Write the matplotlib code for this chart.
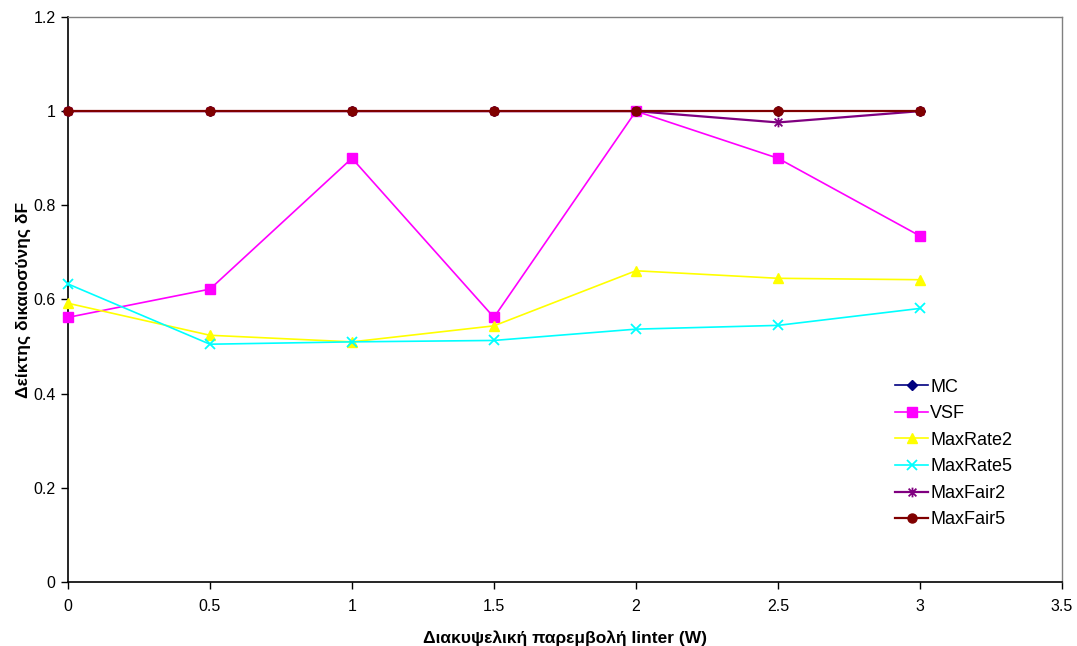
import matplotlib
matplotlib.use("Agg")
import matplotlib.pyplot as plt
from matplotlib.path import Path

plt.rcParams['font.family'] = ['Liberation Sans', 'DejaVu Sans']

# Interference power (W)
x_vals = [0, 0.5, 1, 1.5, 2, 2.5, 3]

mc = [1.0, 1.0, 1.0, 1.0, 1.0, 1.0, 1.0]
vsf = [0.562, 0.622, 0.900, 0.562, 1.0, 0.900, 0.735]
maxrate2 = [0.592, 0.524, 0.510, 0.544, 0.661, 0.645, 0.642]
maxrate5 = [0.633, 0.505, 0.510, 0.513, 0.537, 0.545, 0.581]
maxfair2 = [1.0, 1.0, 1.0, 1.0, 1.0, 0.976, 1.0]
maxfair5 = [1.0, 1.0, 1.0, 1.0, 1.0, 1.0, 1.0]

# Asterisk marker: a vertical stroke crossed by two diagonals
asterisk = Path(
    [(0, -1), (0, 1), (-0.8, -0.8), (0.8, 0.8), (-0.8, 0.8), (0.8, -0.8)],
    [Path.MOVETO, Path.LINETO, Path.MOVETO, Path.LINETO, Path.MOVETO, Path.LINETO],
)

series_names = ["MC", "VSF", "MaxRate2", "MaxRate5", "MaxFair2", "MaxFair5"]
series_vals = [mc, vsf, maxrate2, maxrate5, maxfair2, maxfair5]
colors = ["#000080", "#FF00FF", "#FFFF00", "#00FFFF", "#800080", "#800000"]
markers = ["D", "s", "^", "x", asterisk, "o"]
msizes = [5, 6.5, 6.5, 7, 7, 6.5]
lwidths = [1.2, 1.2, 1.2, 1.2, 1.6, 1.6]

x_ticks = [0, 0.5, 1, 1.5, 2, 2.5, 3, 3.5]
x_tick_labels = ["0", "0.5", "1", "1.5", "2", "2.5", "3", "3.5"]
y_ticks = [0, 0.2, 0.4, 0.6, 0.8, 1, 1.2]
y_tick_labels = ["0", "0.2", "0.4", "0.6", "0.8", "1", "1.2"]

fig = plt.figure(figsize=(10.77, 6.46), dpi=100)
ax = fig.add_axes([0.0631, 0.0991, 0.9229, 0.8746])

for name, vals, c, m, ms, lw in zip(series_names, series_vals, colors, markers, msizes, lwidths):
    mew = 1.3 if (m is asterisk or m == "x") else 1.0
    ax.plot(x_vals, vals, color=c, marker=m, markersize=ms, linewidth=lw,
            markeredgecolor=c, markerfacecolor=c, markeredgewidth=mew,
            label=name, clip_on=False, zorder=3)

ax.set_xlim(0, 3.5)
ax.set_ylim(0, 1.2)
ax.set_xticks(x_ticks)
ax.set_xticklabels(x_tick_labels)
ax.set_yticks(y_ticks)
ax.set_yticklabels(y_tick_labels)
ax.tick_params(axis='both', direction='out', length=5, width=1, labelsize=11.5,
               colors='black')
ax.tick_params(axis='x', pad=7)
ax.tick_params(axis='y', pad=4)

for side in ("left", "bottom"):
    ax.spines[side].set_color("black")
    ax.spines[side].set_linewidth(1.2)
for side in ("top", "right"):
    ax.spines[side].set_color("#808080")
    ax.spines[side].set_linewidth(1.0)

ax.set_xlabel("Διακυψελική παρεμβολή Iinter (W)", fontsize=12.5, fontweight='bold',
              labelpad=12)
ax.set_ylabel("Δείκτης δικαιοσύνης δF", fontsize=12.5, fontweight='bold')
ax.yaxis.set_label_coords(-0.037, 0.5)

leg = ax.legend(loc='upper left', bbox_to_anchor=(0.832, 0.36), frameon=False,
                fontsize=13, handlelength=1.85, handletextpad=0.1,
                labelspacing=0.53, borderaxespad=0, borderpad=0)

fig.savefig("out.png", dpi=100)
